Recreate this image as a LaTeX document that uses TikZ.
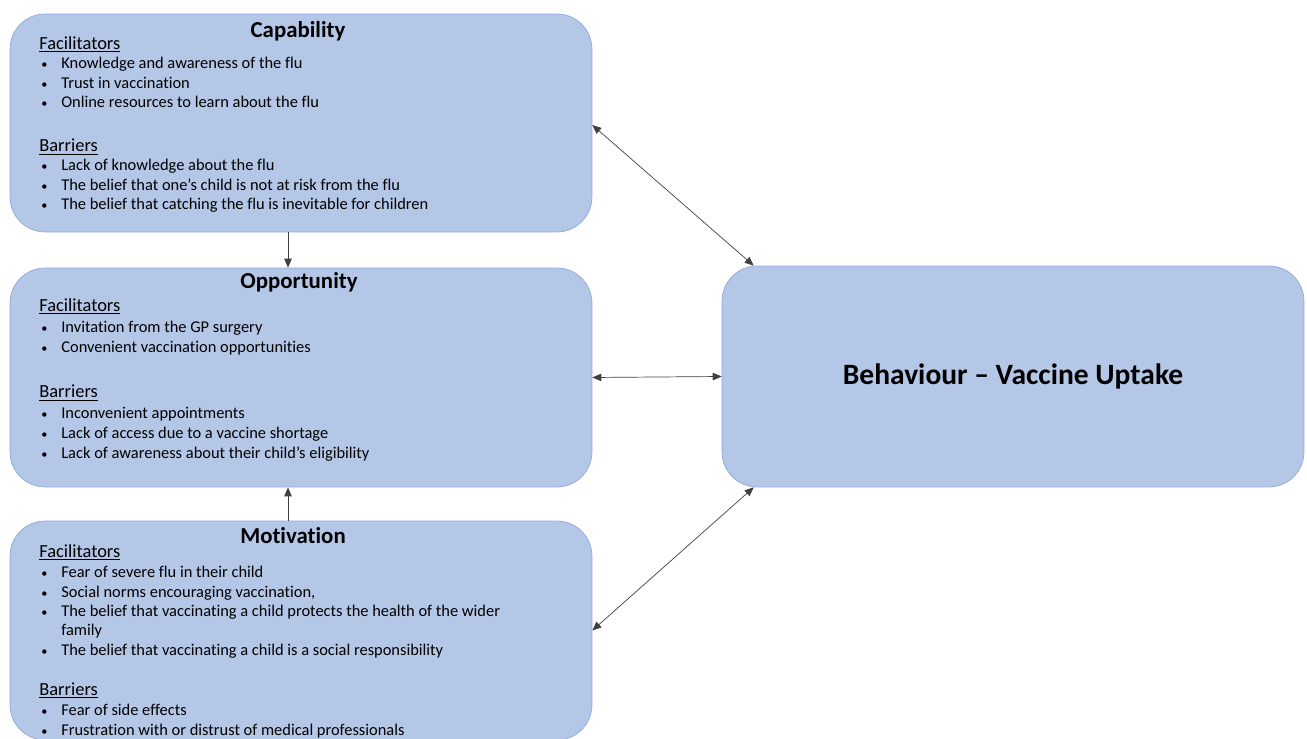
\documentclass[tikz,border=0pt]{standalone}
\usepackage{fontspec}
\setmainfont{Carlito}[Ligatures=NoCommon]
\usepackage{tikz}
\usetikzlibrary{arrows.meta,positioning}
\definecolor{boxfill}{HTML}{B4C7E7}
\definecolor{boxline}{HTML}{8FAADC}
\definecolor{arrowgray}{HTML}{404040}
\newcommand{\bul}[1]{\makebox[0.44cm][l]{\hspace{0.04cm}{\fontsize{7}{7}\selectfont\textbullet}}#1}
\newcommand{\hdr}[1]{{\fontsize{10.5}{11.06}\selectfont\underline{#1}}}
\tikzset{
  cbox/.style={rectangle, rounded corners=0.7cm, draw=boxline, fill=boxfill, thin,
    minimum width=11.64cm, minimum height=4.38cm, inner sep=0pt},
  ctitle/.style={font=\fontsize{13}{15}\selectfont\bfseries, inner sep=0pt},
  clist/.style={align=left, anchor=north west, inner sep=0pt,
    font=\fontsize{9.35}{11.06}\selectfont},
  link/.style={color=arrowgray, thin, >={Triangle[length=0.18cm,width=0.15cm]}},
}
\begin{document}
\begin{tikzpicture}[x=0.02cm, y=-0.02cm]
  \useasboundingbox (0,0) rectangle (1307,739);

  % the three COM boxes
  \node[cbox, minimum height=4.36cm] (cap) at (301,123) {};
  \node[cbox] (opp) at (301,377.5) {};
  \node[cbox] (mot) at (301,630.5) {};
  \node[cbox, minimum height=4.42cm, font=\fontsize{16.8}{19}\selectfont\bfseries]
    (beh) at (1013,376.5) {Behaviour -- Vaccine Uptake};

  % titles
  \node[ctitle] (capt) at (298,31) {Capability};
  \node[ctitle] (oppt) at (299,282) {Opportunity};
  \node[ctitle] (mott) at (293,536) {Motivation};

  % lists
  \node[clist] (capl) at (39,36) {\hdr{Facilitators}\\
    \bul{Knowledge and awareness of the flu}\\
    \bul{Trust in vaccination}\\
    \bul{Online resources to learn about the flu}\\[0.49cm]
    \hdr{Barriers}\\
    \bul{Lack of knowledge about the flu}\\
    \bul{The belief that one’s child is not at risk from the flu}\\
    \bul{The belief that catching the flu is inevitable for children}};
  \node[clist] (oppl) at (39,298) {\hdr{Facilitators}\\[0.04cm]
    \bul{Invitation from the GP surgery}\\
    \bul{Convenient vaccination opportunities}\\[0.52cm]
    \hdr{Barriers}\\[0.03cm]
    \bul{Inconvenient appointments}\\[0.01cm]
    \bul{Lack of access due to a vaccine shortage}\\[0.01cm]
    \bul{Lack of awareness about their child’s eligibility}};
  \node[clist] (motl) at (39,544) {\hdr{Facilitators}\\[0.02cm]
    \bul{Fear of severe flu in their child}\\
    \bul{Social norms encouraging vaccination,}\\
    \bul{The belief that vaccinating a child protects the health of the wider}\\
    \hspace*{0.44cm}family\\
    \bul{The belief that vaccinating a child is a social responsibility}\\[0.41cm]
    \hdr{Barriers}\\[0.02cm]
    \bul{Fear of side effects}\\
    \bul{Frustration with or distrust of medical professionals}};

  % connectors
  \path[link, ->]
    ([xshift=-0.26cm]cap.south) edge ([xshift=-0.26cm]opp.north)
    ([xshift=-0.26cm]mot.north) edge ([xshift=-0.26cm]opp.south);
  \path[link, <->]
    ([yshift=-0.04cm]cap.east) edge ([xshift=0.64cm]beh.north west)
    (opp.east) edge (beh.west)
    (mot.east) edge ([xshift=0.64cm]beh.south west);
\end{tikzpicture}
\end{document}
